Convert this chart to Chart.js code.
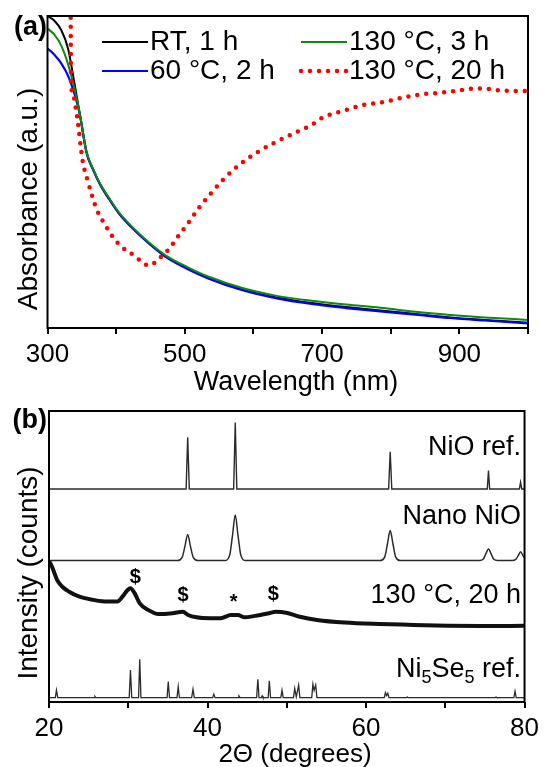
<!DOCTYPE html>
<html>
<head>
<meta charset="utf-8">
<script src="https://cdn.jsdelivr.net/npm/chart.js@4.4.0/dist/chart.umd.min.js"></script>
<style>
  html, body { margin: 0; padding: 0; background: #fff; overflow: hidden; width: 544px; height: 767px; }
  canvas { position: absolute; left: 0; }
  #uvChart { top: 0; }
  #xrdChart { top: 400px; }
</style>
</head>
<body>
<canvas id="uvChart" width="544" height="400"></canvas>
<canvas id="xrdChart" width="544" height="380"></canvas>
<script>
// ---- (a) UV-vis absorbance ----
const uvWavelength = [300, 310, 320, 330, 340, 347, 357, 367, 377, 390, 405, 423, 448, 472, 503, 534, 584, 634, 685, 735, 785, 836, 887, 937, 1000];
const rt1h   = [100, 98.5, 95.5, 89.5, 77.5, 68.8, 56.3, 50.6, 46.0, 41.4, 36.6, 32.3, 27.2, 23.0, 19.2, 16.1, 12.3, 9.8, 8.0, 6.7, 5.6, 4.5, 3.4, 2.6, 1.7];
const c60_2h = [89.6, 87.6, 84.8, 80.8, 74.5, 68.5, 56.0, 50.4, 45.8, 41.2, 36.4, 32.1, 27.0, 22.8, 19.0, 15.9, 12.1, 9.5, 7.7, 6.4, 5.3, 4.3, 3.2, 2.4, 1.5];
const c130_3h = [96, 94, 90.5, 84.5, 76, 68.6, 56.3, 50.7, 46.1, 41.6, 36.8, 32.5, 27.4, 23.3, 19.6, 16.5, 12.8, 10.3, 8.7, 7.5, 6.5, 5.2, 4.2, 3.4, 2.6];
// 130 °C, 20 h (dotted) has its own wavelength grid
const c130_20hX = [333.0, 333.8, 334.2, 337.5, 341.5, 344.4, 349.5, 351.7, 359.5, 364.6, 372, 382.2, 394.8, 407.4, 425, 437.6, 446.9, 458, 468, 478.3, 488.2, 503, 520.5, 538.6, 558.4, 578.8, 604, 629.7, 659.7, 685, 699.6, 735.4, 760.7, 791.3, 818.9, 844.7, 871.3, 899, 925.6, 938.3, 951.4, 975.7, 1000];
const c130_20hY = [108, 98, 79.5, 74.5, 69.9, 65.7, 56.1, 52.9, 46.5, 42.6, 37.8, 33.7, 29.3, 26.1, 23.4, 21.2, 20.0, 21.2, 23.4, 25.6, 28.8, 33.0, 38.5, 43.3, 48.1, 52.2, 56.1, 59.3, 62.5, 65.1, 67.3, 69.9, 71.5, 72.5, 73.9, 74.9, 75.4, 76.1, 76.8, 76.7, 76.3, 76.0, 76.0];
const uvTicks = [300, 400, 500, 600, 700, 800, 900, 1000];
const uvTickLabels = [300, 500, 700, 900];

// ---- (b) XRD patterns (stacked, arbitrary units) ----
const nioRefX = [20, 37.3, 37.5, 37.7, 43.3, 43.5, 43.7, 62.85, 63.05, 63.25, 75.3, 75.45, 75.6, 79.35, 79.5, 79.65, 80];
const nioRefY = [73.2, 73.2, 91.0, 73.2, 73.2, 96.0, 73.2, 73.2, 86.0, 73.2, 73.2, 79.5, 73.2, 73.2, 75.5, 73.2, 73.2];
const nanoNioX = [20, 36.2, 36.8, 37.15, 37.5, 37.85, 38.2, 38.8, 42.2, 42.8, 43.15, 43.5, 43.85, 44.2, 44.8, 61.75, 62.35, 62.7, 63.05, 63.4, 63.75, 64.35, 74.3, 74.8, 75.1, 75.45, 75.8, 76.1, 76.6, 78.4, 78.9, 79.2, 79.5, 79.8, 80];
const nanoNioY = [48.6, 48.6, 49.7, 53.5, 57.6, 53.5, 49.7, 48.6, 48.6, 50.5, 57.2, 64.3, 57.2, 50.5, 48.6, 48.6, 49.8, 54.3, 58.9, 54.3, 49.8, 48.6, 48.6, 49.1, 50.8, 52.6, 50.8, 49.1, 48.6, 48.6, 49.0, 50.3, 51.6, 50.3, 49.5];
const sampleX = [20.0, 20.16, 20.38, 21.03, 21.68, 22.54, 23.85, 25.59, 27.33, 28.63, 29.27, 29.92, 30.28, 30.8, 31.45, 32.53, 33.83, 35.58, 36.88, 37.54, 38.62, 40.35, 41.65, 42.96, 43.83, 44.69, 46.0, 47.74, 48.61, 49.91, 51.65, 53.82, 57.29, 61.64, 65.99, 70.33, 74.67, 80.0];
const sampleY = [48.5, 47.7, 46.5, 41.9, 39.6, 37.9, 36.2, 35.1, 34.5, 34.5, 36.2, 38.5, 39.1, 37.4, 33.9, 31.6, 30.2, 30.5, 31.0, 29.9, 29.1, 28.8, 28.8, 29.9, 29.9, 29.1, 29.6, 30.5, 31.0, 30.7, 29.3, 28.2, 27.3, 26.8, 26.5, 26.2, 26.1, 26.2];
const niSeRefX = [20, 20.8, 20.94, 21.1, 25.7, 25.8, 25.9, 30.12, 30.28, 30.44, 31.3, 31.45, 31.6, 34.9, 35.05, 35.2, 36.15, 36.3, 36.45, 38.0, 38.17, 38.33, 40.65, 40.8, 40.95, 43.85, 43.96, 44.1, 46.2, 46.35, 46.5, 46.8, 46.9, 47.0, 47.65, 47.8, 47.95, 49.25, 49.4, 49.55, 50.85, 51.0, 51.2, 51.5, 51.65, 53.15, 53.3, 53.45, 53.65, 53.8, 62.3, 62.45, 62.6, 62.75, 62.9, 65.1, 65.2, 65.3, 76.3, 76.4, 76.5, 78.65, 78.8, 78.95, 80];
const niSeRefY = [1.5, 1.5, 4.1, 1.5, 1.5, 1.9, 1.5, 1.5, 11.0, 1.5, 1.5, 14.7, 1.5, 1.5, 7.0, 1.5, 1.5, 5.3, 1.5, 1.5, 4.4, 1.5, 1.5, 2.7, 1.5, 1.5, 2.1, 1.5, 1.5, 7.8, 1.5, 1.5, 2.1, 1.5, 1.5, 7.3, 1.5, 1.5, 4.1, 1.5, 1.5, 4.7, 1.8, 5.8, 1.5, 1.5, 6.1, 4.0, 5.8, 1.5, 1.5, 3.2, 2.2, 3.0, 1.5, 1.5, 1.7, 1.5, 1.5, 1.7, 1.5, 1.5, 3.7, 1.5, 1.5];
const xrdTicks = [20, 30, 40, 50, 60, 70, 80];
const xrdTickLabels = [20, 40, 60, 80];
// peak assignment marks on the 130 °C, 20 h pattern
const markSymbols = ['$', '$', '*', '$'];
const markX = [30.9, 36.9, 43.3, 48.3];
const markY = [42.8, 36.6, 34.2, 36.8];

const FONT = "'Liberation Sans', Arial, Helvetica, sans-serif";
Chart.defaults.font.family = FONT;
Chart.defaults.color = '#000';

const pts = (xs, ys) => xs.map((x, i) => ({x: x, y: ys[i]}));

// box round the plot area
const framePlugin = {
  id: 'frame',
  afterDraw(chart) {
    const {ctx, chartArea: a} = chart;
    ctx.save();
    ctx.strokeStyle = '#000';
    ctx.lineWidth = 2;
    ctx.strokeRect(a.left, a.top, a.right - a.left, a.bottom - a.top);
    ctx.restore();
  }
};

// free text: panel letters, axis titles, trace names
const panelText = {
  id: 'panelText',
  afterDraw(chart, args, opts) {
    const ctx = chart.ctx;
    (opts.items || []).forEach(it => {
      ctx.save();
      ctx.fillStyle = '#000';
      ctx.textBaseline = 'middle';
      ctx.textAlign = 'left';
      ctx.translate(it.x, it.y);
      if (it.rotate) ctx.rotate(it.rotate);
      const parts = it.parts || [[it.text, false]];
      const fontFor = sub => (it.bold ? 'bold ' : '') + (sub ? Math.round(it.size * 0.68) : it.size) + 'px ' + FONT;
      let total = 0;
      parts.forEach(([t, sub]) => { ctx.font = fontFor(sub); total += ctx.measureText(t).width; });
      let x = it.align === 'right' ? -total : (it.align === 'left' ? 0 : -total / 2);
      parts.forEach(([t, sub]) => {
        ctx.font = fontFor(sub);
        ctx.fillText(t, x, sub ? it.size * 0.3 : 0);
        x += ctx.measureText(t).width;
      });
      ctx.restore();
    });
  }
};

// two-column legend inside the plot
const gridLegend = {
  id: 'gridLegend',
  afterDraw(chart, args, opts) {
    const ctx = chart.ctx;
    chart.data.datasets.forEach((ds, i) => {
      const x0 = opts.cols[Math.floor(i / 2)];
      const y = opts.rows[i % 2];
      ctx.save();
      ctx.strokeStyle = ds.borderColor;
      ctx.lineWidth = ds.borderWidth;
      ctx.lineCap = ds.borderCapStyle || 'butt';
      ctx.setLineDash(ds.borderDash || []);
      ctx.beginPath();
      ctx.moveTo(x0, y);
      ctx.lineTo(x0 + opts.lineLen, y);
      ctx.stroke();
      ctx.setLineDash([]);
      ctx.fillStyle = '#000';
      ctx.font = opts.size + 'px ' + FONT;
      ctx.textBaseline = 'middle';
      ctx.fillText(ds.label, x0 + opts.lineLen + 2, y);
      ctx.restore();
    });
  }
};

const peakMarks = {
  id: 'peakMarks',
  afterDatasetsDraw(chart) {
    const {ctx, scales: {x, y}} = chart;
    ctx.save();
    ctx.font = 'bold 20px ' + FONT;
    ctx.textAlign = 'center';
    ctx.textBaseline = 'middle';
    ctx.fillStyle = '#000';
    markSymbols.forEach((s, i) => ctx.fillText(s, x.getPixelForValue(markX[i]), y.getPixelForValue(markY[i])));
    ctx.restore();
  }
};

function xAxis(min, max, tickList, labelList, height) {
  return {
    type: 'linear', min: min, max: max,
    afterBuildTicks: axis => { axis.ticks = tickList.map(v => ({value: v})); },
    afterFit: s => { s.height = height; },
    ticks: {
      autoSkip: false, maxRotation: 0, padding: 5, color: '#000',
      font: {size: 26},
      callback: v => labelList.includes(v) ? String(v) : ''
    },
    grid: { drawOnChartArea: false, tickLength: 6, tickWidth: 2, tickColor: '#000', color: '#000', lineWidth: 2 },
    border: { display: false }
  };
}

function yAxis(width) {
  return {
    min: 0, max: 100,
    ticks: { display: false },
    grid: { display: false },
    border: { display: false },
    afterFit: s => { s.width = width; }
  };
}

const lineDefaults = { pointRadius: 0, fill: false, cubicInterpolationMode: 'monotone' };

// Chart (a)
new Chart(document.getElementById('uvChart').getContext('2d'), {
  type: 'line',
  data: {
    datasets: [
      { ...lineDefaults, label: 'RT, 1 h', data: pts(uvWavelength, rt1h), borderColor: '#000000', borderWidth: 2, order: 3 },
      { ...lineDefaults, label: '60 °C, 2 h', data: pts(uvWavelength, c60_2h), borderColor: '#0000ff', borderWidth: 2.2, order: 2 },
      { ...lineDefaults, label: '130 °C, 3 h', data: pts(uvWavelength, c130_3h), borderColor: '#0c8a0c', borderWidth: 2, order: 1 },
      { ...lineDefaults, label: '130 °C, 20 h', data: pts(c130_20hX, c130_20hY), borderColor: '#ff0000', borderWidth: 4.5,
        borderDash: [0, 9], borderCapStyle: 'round', order: 0 }
    ]
  },
  options: {
    responsive: false,
    animation: false,
    layout: { padding: { top: 16, right: 16, left: 0, bottom: 0 } },
    scales: { x: xAxis(300, 1000, uvTicks, uvTickLabels, 72), y: yAxis(47.5) },
    plugins: {
      legend: { display: false },
      tooltip: { enabled: false },
      gridLegend: { cols: [102, 301], rows: [42, 71], lineLen: 46, size: 28 },
      panelText: { items: [
        { text: '(a)', x: 47, y: 28, size: 27, bold: true, align: 'right' },
        { text: 'Absorbance (a.u.)', x: 29.5, y: 199, size: 28, rotate: -Math.PI / 2 },
        { text: 'Wavelength (nm)', x: 296, y: 383, size: 27 }
      ] }
    }
  },
  plugins: [framePlugin, gridLegend, panelText]
});

// Chart (b)
new Chart(document.getElementById('xrdChart').getContext('2d'), {
  type: 'line',
  data: {
    datasets: [
      { label: 'NiO ref.', data: pts(nioRefX, nioRefY), borderColor: '#2b2b2b', borderWidth: 1.4, pointRadius: 0, tension: 0 },
      { ...lineDefaults, label: 'Nano NiO', data: pts(nanoNioX, nanoNioY), borderColor: '#2b2b2b', borderWidth: 1.5 },
      { ...lineDefaults, label: '130 °C, 20 h', data: pts(sampleX, sampleY), borderColor: '#111111', borderWidth: 4 },
      { label: 'Ni5Se5 ref.', data: pts(niSeRefX, niSeRefY), borderColor: '#2b2b2b', borderWidth: 1.3, pointRadius: 0, tension: 0 }
    ]
  },
  options: {
    responsive: false,
    animation: false,
    layout: { padding: { top: 11, right: 16, left: 0, bottom: 0 } },
    scales: { x: xAxis(20, 80, xrdTicks, xrdTickLabels, 78), y: yAxis(49) },
    plugins: {
      legend: { display: false },
      tooltip: { enabled: false },
      panelText: { items: [
        { text: '(b)', x: 47, y: 21, size: 27, bold: true, align: 'right' },
        { text: 'Intensity (counts)', x: 29, y: 173, size: 28, rotate: -Math.PI / 2 },
        { text: '2\u0398 (degrees)', x: 295, y: 355, size: 26 },
        { text: 'NiO ref.', x: 521, y: 48, size: 27, align: 'right' },
        { text: 'Nano NiO', x: 521, y: 117, size: 27, align: 'right' },
        { text: '130 °C, 20 h', x: 521, y: 196, size: 27, align: 'right' },
        { parts: [['Ni', false], ['5', true], ['Se', false], ['5', true], [' ref.', false]], x: 521, y: 270, size: 27, align: 'right' }
      ] }
    }
  },
  plugins: [framePlugin, peakMarks, panelText]
});
</script>
</body>
</html>
